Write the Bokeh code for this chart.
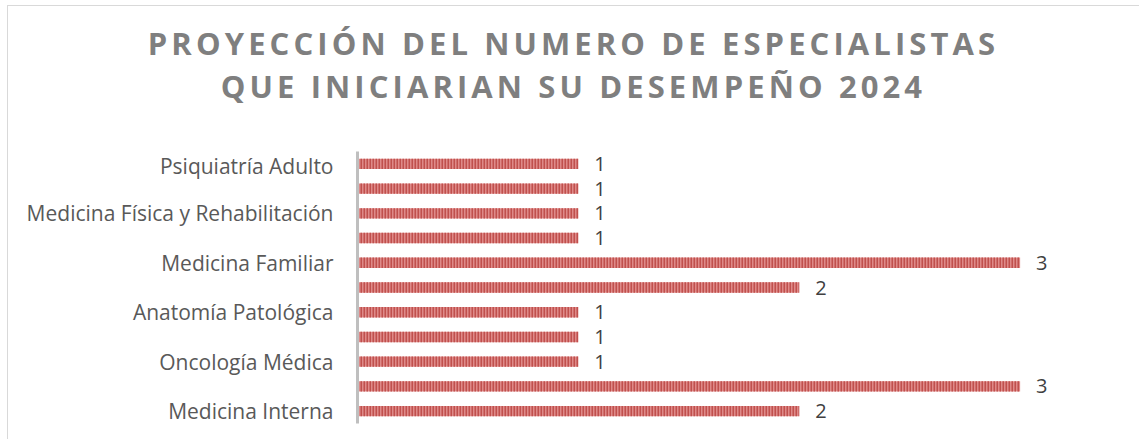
from bokeh.plotting import figure
from bokeh.models import ColumnDataSource, FixedTicker, Range1d, Div, LabelSet
from bokeh.layouts import column
from bokeh.embed import file_html
from bokeh.resources import INLINE
from bokeh.core.properties import value

# Data (bottom to top, as drawn)
categories = [
    "Medicina Interna", "", "Oncología Médica", "", "Anatomía Patológica", "",
    "Medicina Familiar", "", "Medicina Física y Rehabilitación", "", "Psiquiatría Adulto",
]
values = [2, 3, 1, 1, 1, 2, 3, 1, 1, 1, 1]
title_lines = ["PROYECCIÓN DEL NUMERO DE ESPECIALISTAS", "QUE INICIARIAN SU DESEMPEÑO 2024"]

positions = list(range(len(categories)))
src = ColumnDataSource(dict(y=positions, v=values, lab=[str(v) for v in values]))

W = 1131
title_div = Div(
    text=(
        '<div style="width:%dpx;text-align:center;font-family:\'Open Sans\';font-weight:bold;'
        'font-size:31px;color:#7f7f7f;letter-spacing:4.1px;line-height:43px;padding-top:16px;">'
        '%s<br>%s</div>' % (W, title_lines[0], title_lines[1])
    ),
    width=W, height=145, margin=(0, 0, 0, 0),
)

p = figure(
    width=W, height=288, output_backend="svg", toolbar_location=None,
    x_range=Range1d(0, 3.5), y_range=Range1d(-0.5, len(categories) - 0.5),
    min_border_left=349, min_border_right=9, min_border_top=0, min_border_bottom=16,
    margin=(0, 0, 0, 0),
)
p.outline_line_color = None
p.grid.visible = False
p.xaxis.visible = False

p.hbar(
    y="y", right="v", left=0, height=0.42, source=src,
    fill_color="#df8a89", line_color=None,
    hatch_pattern="vertical_line", hatch_color="#c0504d", hatch_scale=3, hatch_weight=2,
)

labels = LabelSet(
    x="v", y="y", text="lab", source=src, x_offset=16, y_offset=0,
    text_align="left", text_baseline="middle", text_font=value("Open Sans"),
    text_font_size="20px", text_color="#404040",
)
p.add_layout(labels)

ya = p.yaxis[0]
ya.ticker = FixedTicker(ticks=[i for i, c in enumerate(categories) if c])
ya.major_label_overrides = {i: c for i, c in enumerate(categories) if c}
ya.major_tick_line_color = None
ya.minor_tick_line_color = None
ya.axis_line_color = "#bfbfbf"
ya.axis_line_width = 3
ya.major_label_standoff = 18
ya.major_label_text_font = "Open Sans"
ya.major_label_text_font_size = "21px"
ya.major_label_text_color = "#595959"

layout = column(title_div, p, spacing=0, margin=(5, 0, 0, 7),
                styles={"border-left": "1px solid #d9d9d9", "border-top": "1px solid #d9d9d9"})

open("out.html", "w").write(file_html(layout, INLINE))
